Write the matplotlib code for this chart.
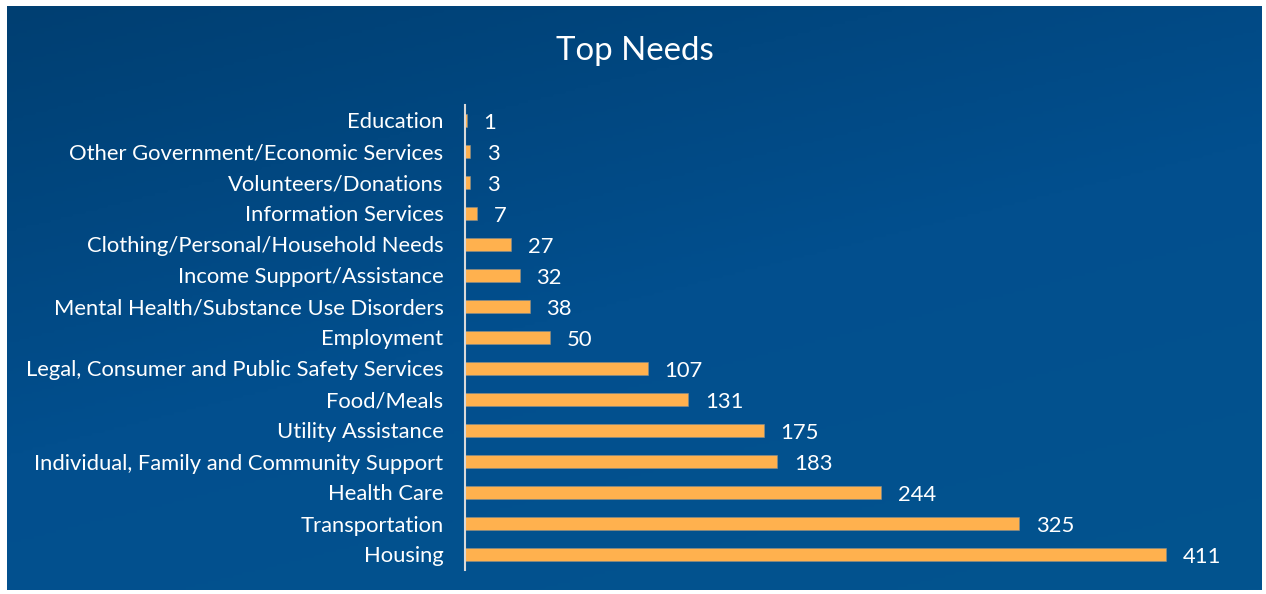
import numpy as np
import matplotlib
matplotlib.use("Agg")
import matplotlib.pyplot as plt
from matplotlib.colors import LinearSegmentedColormap

# Top needs, counts per category (bottom to top)
categories = ["Housing", "Transportation", "Health Care",
              "Individual, Family and Community Support", "Utility Assistance",
              "Food/Meals", "Legal, Consumer and Public Safety Services",
              "Employment", "Mental Health/Substance Use Disorders",
              "Income Support/Assistance", "Clothing/Personal/Household Needs",
              "Information Services", "Volunteers/Donations",
              "Other Government/Economic Services", "Education"]
counts = [411, 325, 244, 183, 175, 131, 107, 50, 38, 32, 27, 7, 3, 3, 1]

W, H = 1266, 594
fig = plt.figure(figsize=(W / 100, H / 100), dpi=100, facecolor="white")
plt.rcParams["font.family"] = ["Lato", "DejaVu Sans"]

# blue gradient panel behind everything
bg = fig.add_axes([7 / W, 4 / H, 1255 / W, 584 / H])
bg.set_axis_off()
yy, xx = np.mgrid[0:1:200j, 0:1:400j]
grad = 0.65 * yy + 0.35 * xx
cmap = LinearSegmentedColormap.from_list("panel", ["#003f72", "#024f8e", "#03548f"])
bg.imshow(grad, cmap=cmap, aspect="auto", origin="upper", extent=[0, 1, 0, 1])

ax = fig.add_axes([465 / W, 24 / H, 790 / W, 465 / H])
ax.set_facecolor("none")
y = np.arange(len(categories))
bars = ax.barh(y, counts, height=0.42, color="#ffb14e", edgecolor="#8a8f8f", linewidth=0.4)
ax.set_ylim(-0.5, len(categories) - 0.5)
ax.set_xlim(0, 790 / 1.706)

ax.set_yticks(y)
ax.set_yticklabels(categories, color="white", fontsize=15.8)
ax.tick_params(axis="y", length=0, pad=15.5)
ax.set_xticks([])
for side in ["top", "right", "bottom"]:
    ax.spines[side].set_visible(False)
ax.spines["left"].set_color("#d9d9d9")
ax.spines["left"].set_linewidth(1.5)

for yi, v in zip(y, counts):
    ax.annotate(str(v), (v, yi), xytext=(12, -1.5), textcoords="offset points",
                va="center", ha="left", color="white", fontsize=15.8)

fig.text(635 / W, 1 - 51 / H, "Top Needs", color="white", fontsize=23.8,
         ha="center", va="center")

fig.savefig("out.png", dpi=100, facecolor="white")
